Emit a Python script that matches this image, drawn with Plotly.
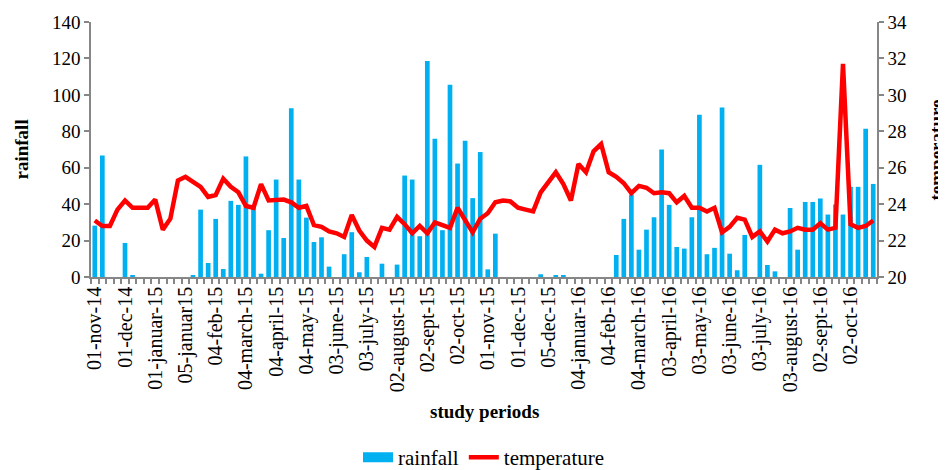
import plotly.graph_objects as go

rainfall = [28.2, 66.7, 0, 0, 18.7, 0.7, 0, 0, 0, 0, 0, 0, 0, 1.1, 37.0, 7.7, 31.9, 4.4, 41.8, 39.6,
            66.2, 39.0, 1.8, 25.7, 53.5, 21.4, 92.7, 53.5, 32.6, 19.2, 21.8, 5.7, 0, 12.5, 24.6, 2.6,
            11.0, 0, 7.3, 0, 6.8, 55.7, 53.5, 22.4, 118.6, 75.9, 25.7, 105.6, 62.3, 74.8, 43.3, 68.6,
            4.2, 23.8, 0, 0, 0, 0, 0, 1.5, 0, 0.7, 0.7, 0, 0, 0, 0, 0, 0, 12.1, 31.9, 45.3, 15.0,
            26.0, 32.8, 70.0, 39.6, 16.5, 15.6, 32.8, 89.1, 12.5, 16.0, 93.1, 12.8, 3.7, 23.1, 0,
            61.6, 6.6, 3.1, 0, 37.9, 15.0, 41.2, 41.2, 43.1, 34.3, 39.8, 34.3, 49.5, 49.5, 81.4, 51.1]

temperature = [23.1, 22.8, 22.8, 23.7, 24.2, 23.8, 23.8, 23.8, 24.25, 22.6, 23.2, 25.3, 25.5, 25.2,
               24.95, 24.4, 24.5, 25.4, 24.95, 24.65, 23.9, 23.8, 25.1, 24.2, 24.25, 24.25, 24.1,
               23.8, 23.9, 22.85, 22.75, 22.5, 22.4, 22.2, 23.4, 22.55, 22.0, 21.65, 22.7, 22.6,
               23.3, 22.9, 22.4, 22.8, 22.4, 23.0, 22.85, 22.7, 23.8, 23.15, 22.45, 23.2, 23.5,
               24.1, 24.2, 24.15, 23.8, 23.7, 23.6, 24.65, 25.25, 25.75, 25.1, 24.2, 26.2, 25.75,
               26.9, 27.3, 25.75, 25.5, 25.15, 24.6, 25.0, 24.9, 24.6, 24.65, 24.6, 24.1, 24.45,
               23.8, 23.8, 23.6, 23.8, 22.45, 22.75, 23.25, 23.15, 22.2, 22.5, 21.95, 22.6, 22.4,
               22.5, 22.7, 22.6, 22.6, 22.95, 22.6, 22.7, 31.7, 22.9, 22.7, 22.8, 23.1]

tick_labels = ["01-nov-14", "01-dec-14", "01-januar-15", "05-januar15", "04-feb-15", "04-march-15",
               "04-april-15", "04-may-15", "03-june-15", "03-july-15", "02-august-15", "02-sept-15",
               "02-oct-15", "01-nov-15", "01-dec-15", "05-dec-15", "04-januar-16", "04-feb-16",
               "04-march-16", "03-april-16", "03-may-16", "03-june-16", "03-july-16", "03-august-16",
               "02-sept-16", "02-oct-16"]

x = list(range(len(rainfall)))
tick_pos = [i * 4 for i in range(len(tick_labels))]

FONT = "Liberation Serif"
GRAY = "#868686"
BLUE = "#00B0F0"

fig = go.Figure()
fig.add_trace(go.Bar(x=x, y=rainfall, name="rainfall", marker=dict(color=BLUE, line=dict(width=0)),
                     yaxis="y", showlegend=False))
# legend key for rainfall drawn as a wide block, like the reference
fig.add_trace(go.Scatter(x=[None], y=[None], name="rainfall", mode="lines",
                         line=dict(color=BLUE, width=11), yaxis="y"))
fig.add_trace(go.Scatter(x=x, y=temperature, name="temperature", mode="lines",
                         line=dict(color="#FF0000", width=4.5), yaxis="y2"))

# page body has an 8px default margin, so the figure is sized to fit the 946x470 window
fig.update_layout(
    width=938, height=462,
    margin=dict(l=83, r=69, t=14, b=193, autoexpand=False),
    paper_bgcolor="white", plot_bgcolor="white",
    font=dict(family=FONT, size=19, color="black"),
    bargap=0.38,
    showlegend=True,
    legend=dict(orientation="h", x=0.5, xanchor="center", y=-0.628, yanchor="top",
                font=dict(family=FONT, size=21), tracegroupgap=0, itemsizing="trace"),
    xaxis=dict(range=[-0.5, len(rainfall) - 0.5], tickmode="array", tickvals=tick_pos,
               ticktext=tick_labels, tickangle=-90, ticks="", showline=True, linecolor=GRAY,
               linewidth=1.5, showgrid=False, zeroline=False, tickfont=dict(size=20),
               automargin=False,
               minor=dict(ticks="outside", tickmode="linear", tick0=-0.5, dtick=1, ticklen=5,
                          tickcolor=GRAY, tickwidth=1.5, showgrid=False)),
    yaxis=dict(range=[0, 140], dtick=20, ticks="outside", ticklen=5, tickcolor=GRAY, tickwidth=1.5,
               showline=True, linecolor=GRAY, linewidth=1.5, showgrid=False, zeroline=False,
               tickfont=dict(size=19), automargin=False),
    yaxis2=dict(range=[20, 34], dtick=2, overlaying="y", side="right", ticks="outside", ticklen=5,
                tickcolor=GRAY, tickwidth=1.5, showline=True, linecolor=GRAY, linewidth=1.5,
                showgrid=False, zeroline=False, tickfont=dict(size=19), automargin=False),
    annotations=[
        dict(text="<b>rainfall</b>", xref="paper", yref="paper", x=-0.0878, y=0.5, textangle=-90,
             showarrow=False, font=dict(family=FONT, size=19), xanchor="center", yanchor="middle"),
        dict(text="<b>temperature</b>", xref="paper", yref="paper", x=1.0763, y=0.5, textangle=-90,
             showarrow=False, font=dict(family=FONT, size=19), xanchor="center", yanchor="middle"),
        dict(text="<b>study periods</b>", xref="paper", yref="paper", x=0.5, y=-0.529,
             showarrow=False, font=dict(family=FONT, size=19), xanchor="center", yanchor="middle"),
    ],
)

fig.write_html("out.html")
